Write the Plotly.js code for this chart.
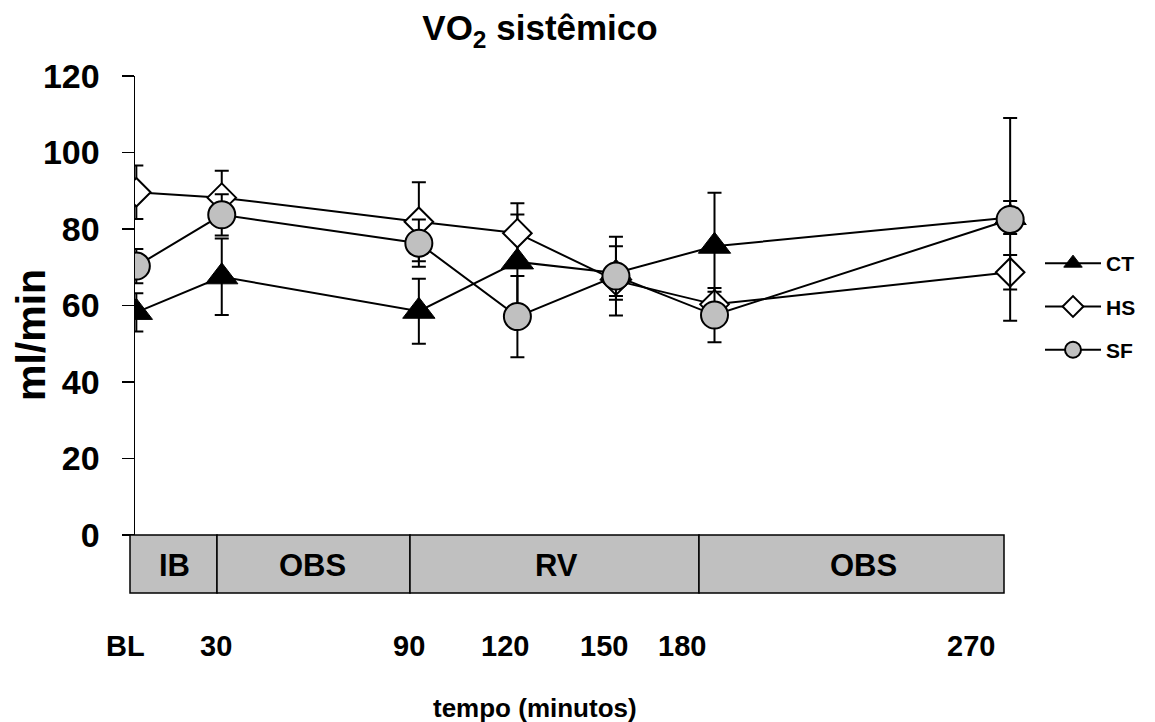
<!DOCTYPE html>
<html>
<head>
<meta charset="utf-8">
<script src="https://cdn.plot.ly/plotly-3.0.1.min.js"></script>
<style>
  html, body { margin: 0; padding: 0; background: #ffffff; }
  #chart { width: 1155px; height: 722px; }
</style>
</head>
<body>
<div id="chart"></div>
<script>
// ---------------- data ----------------
// time position of each measurement on the chart's time scale (BL drawn just before 30)
const timePos   = [4, 30, 90, 120, 150, 180, 270];
const tickLabels = ['BL', '30', '90', '120', '150', '180', '270'];
const seriesNames = ['CT', 'HS', 'SF'];

const ctMean = [58.2, 67.5, 58.5, 71.4, 68.5, 75.5, 83.0];
const ctErr  = [5.0, 10.0, 8.5, 12.4, 7.0, 14.0, 4.3];
const hsMean = [89.6, 88.2, 81.9, 78.9, 66.5, 60.3, 68.7];
const hsErr  = [7.0, 7.0, 10.3, 7.8, 4.0, 3.3, 4.5];
const sfMean = [70.3, 83.7, 76.3, 57.1, 67.7, 57.5, 82.5];
const sfErr  = [4.5, 5.4, 6.2, 10.6, 10.3, 7.1, 26.5];

const phaseLabels = ['IB', 'OBS', 'RV', 'OBS'];
const yTicks = [0, 20, 40, 60, 80, 100, 120];

// ---------------- layout geometry (pixels) ----------------
const FONT = 'Liberation Sans, Arial, Helvetica, sans-serif';
const L = 135, R = 1030, T = 76, B = 535;
const W = R - L, H = B - T;
const px2x = p => (p - L) / W;
const py2y = p => (B - p) / H;

const phaseEdgesPx = [130, 217, 410, 699, 1004];
const phaseLabelPx = [174, 312, 556, 863];
const tickLabelPx  = [125.5, 215.5, 409, 505, 603.5, 682, 970.5];
const boxTopPx = 535, boxBottomPx = 593, boxLabelPx = 565, tickLabelYPx = 646;

// ---------------- traces ----------------
function errBar(arr) {
  return { type: 'data', array: arr, visible: true, color: '#000000', thickness: 2, width: 7 };
}
const traces = [
  {
    name: seriesNames[0], x: timePos, y: ctMean, type: 'scatter', mode: 'lines+markers',
    legendgroup: 'g1',
    line: { color: '#000000', width: 2 },
    marker: { symbol: 'triangle-up', size: 28, color: '#000000', line: { color: '#000000', width: 1 } },
    error_y: errBar(ctErr)
  },
  {
    name: seriesNames[1], x: timePos, y: hsMean, type: 'scatter', mode: 'lines+markers',
    legendgroup: 'g2',
    line: { color: '#000000', width: 2 },
    marker: { symbol: 'diamond', size: 22, color: '#ffffff', line: { color: '#000000', width: 2 } },
    error_y: errBar(hsErr)
  },
  {
    name: seriesNames[2], x: timePos, y: sfMean, type: 'scatter', mode: 'lines+markers',
    legendgroup: 'g3',
    line: { color: '#000000', width: 2 },
    marker: { symbol: 'circle', size: 27, color: '#c0c0c0', line: { color: '#000000', width: 2 } },
    error_y: errBar(sfErr)
  }
];

// ---------------- shapes & annotations ----------------
const shapes = [];
const annotations = [];
for (let i = 0; i < phaseLabels.length; i++) {
  shapes.push({
    type: 'rect', xref: 'paper', yref: 'paper',
    x0: px2x(phaseEdgesPx[i]), x1: px2x(phaseEdgesPx[i + 1]),
    y0: py2y(boxBottomPx), y1: py2y(boxTopPx),
    fillcolor: '#c0c0c0', line: { color: '#000000', width: 1.5 }, layer: 'above'
  });
  annotations.push({
    text: phaseLabels[i], xref: 'paper', yref: 'paper',
    x: px2x(phaseLabelPx[i]), y: py2y(boxLabelPx), xanchor: 'center', yanchor: 'middle',
    showarrow: false, font: { family: FONT, size: 31, weight: 'bold', color: '#000000' }
  });
}
for (let i = 0; i < tickLabels.length; i++) {
  annotations.push({
    text: tickLabels[i], xref: 'paper', yref: 'paper',
    x: px2x(tickLabelPx[i]), y: py2y(tickLabelYPx), xanchor: 'center', yanchor: 'middle',
    showarrow: false, font: { family: FONT, size: 29, weight: 'bold', color: '#000000' }
  });
}
annotations.push({
  text: 'tempo (minutos)', xref: 'paper', yref: 'paper',
  x: px2x(534.5), y: py2y(708), xanchor: 'center', yanchor: 'middle',
  showarrow: false, font: { family: FONT, size: 26, weight: 'bold', color: '#000000' }
});
annotations.push({
  text: 'ml/min', xref: 'paper', yref: 'paper', textangle: -90,
  x: px2x(31), y: py2y(335), xanchor: 'center', yanchor: 'middle',
  showarrow: false, font: { family: FONT, size: 41, weight: 'bold', color: '#000000' }
});

const layout = {
  width: 1155, height: 722,
  paper_bgcolor: '#ffffff', plot_bgcolor: '#ffffff',
  margin: { l: L, r: 1155 - R, t: T, b: 722 - B, pad: 0 },
  font: { family: FONT, color: '#000000' },
  title: {
    text: 'VO<sub>2</sub> sistêmico',
    xref: 'container', yref: 'container', x: 540 / 1155, xanchor: 'center',
    y: 1 - 28 / 722, yanchor: 'middle',
    font: { family: FONT, size: 35, weight: 'bold', color: '#000000' }
  },
  xaxis: {
    range: [(L - 123.2) / 3.285, (R - 123.2) / 3.285],
    showline: false, showgrid: false, zeroline: false, showticklabels: false, ticks: ''
  },
  yaxis: {
    range: [0, 120], tickvals: yTicks, ticktext: yTicks.map(String),
    showline: true, linecolor: '#000000', linewidth: 1.5,
    ticks: 'outside', ticklen: 12, tickwidth: 1.5, tickcolor: '#000000',
    ticklabelstandoff: 15,
    showgrid: false, zeroline: false,
    tickfont: { family: FONT, size: 34, weight: 'bold', color: '#000000' }
  },
  showlegend: true,
  legend: {
    x: px2x(1040), y: py2y(243), xanchor: 'left', yanchor: 'top',
    bgcolor: 'rgba(0,0,0,0)', borderwidth: 0,
    itemwidth: 56, tracegroupgap: 13,
    font: { family: FONT, size: 21, weight: 'bold', color: '#000000' }
  },
  shapes: shapes,
  annotations: annotations
};

Plotly.newPlot('chart', traces, layout, { displayModeBar: false, staticPlot: true });
</script>
</body>
</html>
